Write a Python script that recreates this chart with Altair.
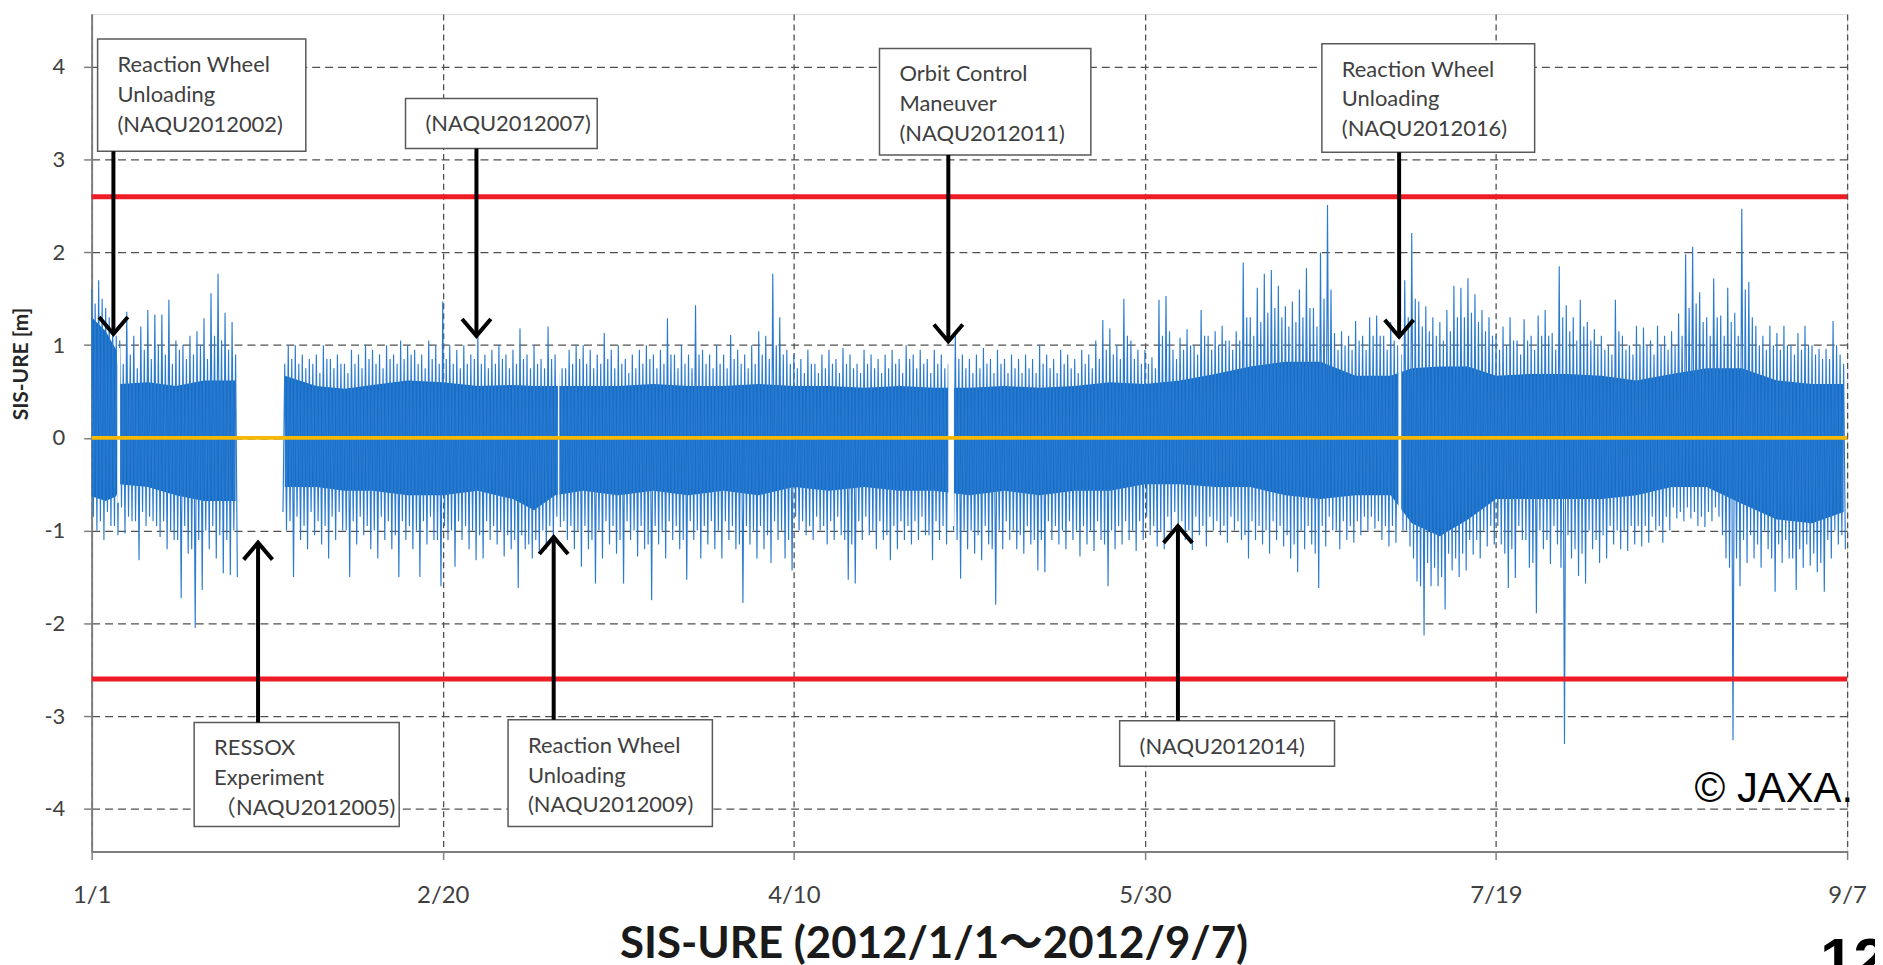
import altair as alt
import pandas as pd

# ---------------- data ----------------
TICK_DAYS = [0, 50, 100, 150, 200, 250]
TICK_LABELS = ["1/1", "2/20", "4/10", "5/30", "7/19", "9/7"]
Y_TICKS = [-4, -3, -2, -1, 0, 1, 2, 3, 4]
THRESHOLDS = [2.6, -2.6]
ZERO = [0.0]

# daily largest upward spike (day 0 = 1/1); None = no data (RESSOX experiment)
HI = [
    1.6, 1.7, 1.4, 1.2, 1.05, 1.36, 1.1, 1.2, 1.38, 1.33,
    1.33, 1.49, 1.05, 1.0, 1.1, 1.15, 1.29, 1.56, 1.77, 1.35,
    1.25, None, None, None, None, None, None, None, 1.0, 1.0,
    0.9, 0.85, 0.9, 1.0, 0.85, 0.9, 0.8, 0.95, 0.9, 1.0,
    0.95, 0.9, 1.0, 0.9, 1.05, 1.0, 0.95, 0.9, 1.05, 1.0,
    1.47, 1.0, 0.95, 1.0, 0.9, 1.11, 0.9, 0.95, 1.0, 0.9,
    0.95, 1.18, 0.9, 1.0, 0.85, 1.2, 0.9, 0.75, 0.95, 1.0,
    1.0, 0.95, 0.9, 1.13, 0.95, 1.0, 0.85, 0.9, 0.95, 1.0,
    0.9, 0.95, 1.29, 0.9, 1.0, 0.9, 1.43, 0.95, 0.9, 1.0,
    0.9, 1.11, 0.95, 0.9, 1.0, 1.15, 1.1, 1.77, 1.3, 0.95,
    0.9, 0.85, 0.95, 0.8, 0.9, 0.95, 0.85, 0.97, 0.9, 0.8,
    0.95, 0.9, 0.85, 0.9, 0.95, 0.85, 1.0, 0.9, 0.95, 0.85,
    0.95, 0.9, 0.8, 1.13, 0.9, 0.85, 0.9, 0.97, 0.85, 0.95,
    0.85, 0.9, 0.85, 0.9, 0.85, 1.0, 0.9, 0.85, 0.95, 0.9,
    0.85, 0.95, 0.9, 1.05, 1.27, 1.18, 1.0, 1.5, 1.05, 0.95,
    0.95, 0.87, 1.49, 1.53, 0.95, 1.08, 1.17, 1.0, 1.38, 1.1,
    1.15, 1.21, 1.05, 1.15, 1.89, 1.3, 1.62, 1.77, 1.81, 1.64,
    1.42, 1.47, 1.6, 1.83, 1.4, 2.0, 2.51, 1.13, 1.15, 1.1,
    1.26, 1.1, 1.3, 1.32, 1.1, 1.25, 1.0, 1.7, 2.21, 1.47,
    1.42, 1.3, 1.25, 1.38, 1.64, 1.62, 1.72, 1.55, 1.38, 1.3,
    1.1, 1.2, 1.3, 1.05, 1.28, 1.1, 1.32, 1.38, 1.13, 1.85,
    1.43, 1.3, 1.49, 1.25, 1.17, 1.1, 1.0, 1.49, 1.1, 1.0,
    1.21, 1.19, 1.05, 1.21, 1.1, 1.15, 1.34, 1.98, 2.06, 1.57,
    1.3, 1.72, 1.32, 1.62, 1.35, 2.47, 1.68, 1.21, 1.1, 1.21,
    1.13, 1.21, 1.0, 1.13, 1.21, 1.0, 0.96, 0.96, 1.26, 0.9,
]

# daily second (smaller) upward spike
HI2 = [
    1.45, 1.5, 1.3, 1.1, 0.8, 0.9, 0.75, 0.95, 0.85, 1.0,
    0.9, 0.8, 0.95, 0.85, 0.9, 1.0, 0.85, 1.1, 1.05, 0.95,
    0.9, None, None, None, None, None, None, 0.8, 0.85, 0.8,
    0.75, 0.8, 0.7, 0.85, 0.75, 0.8, 0.7, 0.8, 0.75, 0.85,
    0.8, 0.75, 0.85, 0.8, 0.85, 0.9, 0.8, 0.75, 0.85, 0.8,
    0.85, 0.8, 0.75, 0.8, 0.85, 0.8, 0.75, 0.8, 0.85, 0.75,
    0.8, 0.85, 0.75, 0.8, 0.75, 0.85, 0.7, 0.75, 0.8, 0.85,
    0.8, 0.75, 0.8, 0.85, 0.75, 0.8, 0.7, 0.75, 0.8, 0.85,
    0.75, 0.8, 0.9, 0.75, 0.8, 0.75, 0.9, 0.8, 0.75, 0.8,
    0.75, 0.85, 0.8, 0.75, 0.8, 0.9, 0.85, 1.0, 0.9, 0.8,
    0.75, 0.7, 0.8, 0.7, 0.75, 0.8, 0.7, 0.8, 0.75, 0.7,
    0.8, 0.75, 0.7, 0.75, 0.8, 0.7, 0.85, 0.75, 0.8, 0.7,
    0.8, 0.75, 0.7, 0.85, 0.75, 0.7, 0.75, 0.8, 0.7, 0.8,
    0.7, 0.75, 0.7, 0.75, 0.7, 0.8, 0.75, 0.7, 0.8, 0.75,
    0.7, 0.8, 0.75, 0.85, 0.95, 0.9, 0.85, 1.1, 0.85, 0.8,
    0.8, 0.75, 1.1, 1.15, 0.85, 0.95, 1.0, 0.9, 1.1, 0.95,
    1.0, 1.05, 0.95, 1.05, 1.3, 1.1, 1.25, 1.35, 1.4, 1.3,
    1.2, 1.25, 1.3, 1.4, 1.2, 1.5, 1.6, 0.95, 1.0, 0.95,
    1.05, 0.95, 1.1, 1.1, 0.95, 1.05, 0.9, 1.3, 1.5, 1.2,
    1.15, 1.1, 1.05, 1.15, 1.3, 1.3, 1.35, 1.25, 1.15, 1.1,
    0.95, 1.0, 1.05, 0.9, 1.05, 0.95, 1.1, 1.1, 0.95, 1.3,
    1.15, 1.05, 1.2, 1.05, 1.0, 0.95, 0.9, 1.15, 0.95, 0.9,
    1.0, 1.0, 0.9, 1.0, 0.95, 1.0, 1.1, 1.4, 1.45, 1.25,
    1.1, 1.3, 1.1, 1.25, 1.1, 1.6, 1.3, 1.0, 0.95, 1.0,
    0.95, 1.0, 0.9, 0.95, 1.0, 0.9, 0.85, 0.85, 1.0, 0.8,
]

# daily largest downward spike
LO = [
    -1.0, -1.1, -0.95, -1.05, -1.03, -0.9, -1.32, -0.95, -0.9, -1.07,
    -1.2, -1.1, -1.73, -1.25, -2.05, -1.64, -1.2, -1.3, -1.46, -1.48,
    -1.5, None, None, None, None, None, None, -1.0, -1.5, -1.1,
    -1.2, -1.05, -1.15, -1.3, -1.1, -1.0, -1.5, -1.15, -1.05, -1.2,
    -1.3, -1.1, -1.2, -1.5, -1.1, -1.2, -1.5, -1.15, -1.1, -1.6,
    -1.1, -1.39, -1.1, -1.2, -1.32, -1.3, -1.1, -1.15, -1.28, -1.2,
    -1.62, -1.2, -1.3, -1.25, -1.2, -1.1, -0.96, -1.1, -1.2, -1.39,
    -1.2, -1.57, -1.3, -1.15, -1.25, -1.57, -1.1, -1.28, -1.2, -1.75,
    -1.15, -1.3, -1.1, -1.2, -1.53, -1.1, -1.3, -1.15, -1.2, -1.3,
    -1.1, -1.2, -1.78, -1.15, -1.3, -1.2, -1.35, -1.1, -1.3, -1.43,
    -1.0, -1.05, -1.1, -1.0, -1.15, -1.1, -1.05, -1.53, -1.57, -1.1,
    -1.05, -1.2, -1.1, -1.32, -1.2, -1.1, -1.15, -1.1, -1.05, -1.32,
    -1.1, -1.15, -1.0, -1.52, -1.2, -1.25, -1.32, -1.15, -1.8, -1.2,
    -1.1, -1.2, -1.25, -1.15, -1.43, -1.45, -1.1, -1.15, -1.2, -1.1,
    -1.28, -1.15, -1.22, -1.1, -1.6, -1.2, -1.15, -1.1, -1.22, -1.1,
    -1.05, -1.17, -1.2, -1.0, -0.96, -1.1, -1.21, -1.05, -1.17, -1.0,
    -1.05, -1.13, -1.0, -1.1, -1.3, -1.1, -1.15, -1.25, -1.1, -1.17,
    -1.3, -1.45, -1.2, -1.15, -1.62, -1.17, -1.0, -1.2, -1.1, -1.13,
    -1.05, -1.0, -0.98, -1.1, -1.17, -1.13, -1.0, -1.17, -1.55, -2.13,
    -1.6, -1.6, -1.85, -1.43, -1.5, -1.43, -1.26, -1.3, -1.17, -1.15,
    -1.15, -1.62, -1.51, -1.1, -1.4, -1.89, -1.2, -1.36, -1.15, -3.3,
    -1.3, -1.49, -1.57, -1.2, -1.35, -1.3, -1.15, -1.2, -1.22, -1.15,
    -1.17, -1.13, -1.0, -1.13, -1.0, -0.87, -0.9, -0.87, -0.95, -0.96,
    -0.9, -0.85, -1.3, -3.26, -1.6, -1.35, -1.3, -1.4, -1.2, -1.66,
    -1.35, -1.3, -1.64, -1.4, -1.38, -1.45, -1.66, -1.3, -1.15, -1.2,
]

# daily second (smaller) downward spike
LO2 = [
    -0.85, -0.9, -0.8, -0.95, -0.75, -0.85, -0.9, -0.8, -0.85, -0.95,
    -0.9, -1.0, -1.1, -0.95, -1.2, -1.1, -1.0, -0.95, -1.05, -1.1,
    -1.0, None, None, None, None, None, None, -0.8, -0.9, -0.85,
    -0.95, -0.8, -0.9, -0.95, -0.85, -0.8, -1.0, -0.9, -0.85, -0.95,
    -1.0, -0.85, -0.9, -1.05, -0.9, -0.95, -1.0, -0.9, -0.85, -1.1,
    -0.95, -1.0, -0.9, -0.95, -1.0, -1.05, -0.9, -0.95, -1.0, -1.05,
    -1.1, -1.05, -1.15, -1.1, -1.0, -0.95, -0.85, -0.9, -0.95, -1.0,
    -0.95, -1.1, -1.0, -0.9, -0.95, -1.1, -0.9, -1.0, -0.95, -1.15,
    -0.95, -1.0, -0.9, -0.95, -1.1, -0.9, -1.0, -0.95, -0.9, -1.0,
    -0.9, -0.95, -1.15, -0.95, -1.0, -0.95, -1.05, -0.9, -1.0, -1.1,
    -0.85, -0.9, -0.95, -0.85, -0.95, -0.9, -0.85, -1.1, -1.15, -0.9,
    -0.85, -1.0, -0.9, -1.05, -0.95, -0.9, -0.95, -0.9, -0.85, -1.05,
    -0.9, -0.95, -0.85, -1.1, -1.0, -1.0, -1.05, -0.95, -1.2, -1.0,
    -0.9, -1.0, -1.05, -0.95, -1.1, -1.1, -0.9, -0.95, -1.0, -0.9,
    -1.0, -0.95, -1.0, -0.9, -1.15, -1.0, -0.95, -0.9, -1.0, -0.9,
    -0.85, -0.95, -1.0, -0.85, -0.8, -0.9, -1.0, -0.85, -0.95, -0.85,
    -0.9, -0.95, -0.85, -0.9, -1.05, -0.9, -0.95, -1.0, -0.9, -0.95,
    -1.05, -1.15, -1.0, -0.95, -1.25, -0.95, -0.85, -1.0, -0.9, -0.95,
    -0.9, -0.85, -0.85, -0.9, -0.95, -0.95, -0.85, -1.0, -1.3, -1.6,
    -1.35, -1.4, -1.5, -1.25, -1.3, -1.25, -1.1, -1.1, -1.0, -0.95,
    -0.95, -1.25, -1.2, -0.95, -1.1, -1.35, -1.0, -1.1, -0.95, -1.4,
    -1.05, -1.2, -1.25, -1.0, -1.1, -1.05, -0.95, -1.0, -1.0, -0.95,
    -0.95, -0.95, -0.85, -0.95, -0.85, -0.75, -0.8, -0.75, -0.8, -0.85,
    -0.8, -0.75, -1.05, -1.4, -1.3, -1.1, -1.05, -1.15, -1.0, -1.3,
    -1.15, -1.1, -1.3, -1.2, -1.15, -1.25, -1.35, -1.1, -1.0, -1.05,
]

# dense core band of the trace
CORE_T = [0, 2, 3.5, 4, 8, 12, 16, 20.5,
          27.5, 32, 36, 40, 45, 50, 55, 60, 63, 66, 70, 75, 80, 85, 90, 95,
          100, 105, 110, 115, 120, 125, 130, 135, 140, 145, 150, 155, 160,
          165, 170, 175, 180, 185, 188, 192, 196, 200, 205, 210, 215, 220,
          225, 230, 235, 240, 245, 249.5]
CORE_TOP = [1.3, 1.15, 0.95, 0.58, 0.6, 0.56, 0.62, 0.62,
            0.67, 0.56, 0.53, 0.57, 0.62, 0.6, 0.56, 0.57, 0.56, 0.56, 0.56,
            0.56, 0.58, 0.56, 0.56, 0.58,
            0.56, 0.56, 0.54, 0.56, 0.54, 0.54, 0.56, 0.54, 0.56, 0.6, 0.58,
            0.62, 0.69, 0.77, 0.82, 0.82, 0.67, 0.67,
            0.75, 0.77, 0.77,
            0.67, 0.69, 0.69, 0.67, 0.62, 0.69, 0.75, 0.75, 0.62, 0.58,
            0.58]
CORE_BOT = [-0.63, -0.68, -0.63, -0.5, -0.53, -0.62, -0.68, -0.68,
            -0.53, -0.53, -0.57, -0.57, -0.62, -0.62, -0.57, -0.66, -0.78,
            -0.62, -0.57, -0.62, -0.57, -0.62, -0.57, -0.62,
            -0.53, -0.57, -0.53, -0.57, -0.57, -0.62, -0.57, -0.62, -0.57,
            -0.57, -0.5, -0.5, -0.53, -0.53, -0.62, -0.66, -0.62, -0.62,
            -0.92, -1.06, -0.88,
            -0.66, -0.66, -0.66, -0.66, -0.62, -0.53, -0.53, -0.71, -0.88,
            -0.92, -0.8]
RESSOX_START, RESSOX_END = 20.5, 27.5

# short data outages (white gaps in the trace)
GAP_START = [3.65, 66.4, 122.0, 186.1]
GAP_END = [4.05, 66.6, 122.8, 186.5]
GAP_TOP = [0.97, 0.95, 0.95, 1.08]
GAP_BOT = [-0.7, -0.95, -0.95, -1.17]

# annotation boxes (days / metres)
BOX_LABELS = [
    "Reaction Wheel\nUnloading\n(NAQU2012002)",
    "(NAQU2012007)",
    "Orbit Control\nManeuver\n(NAQU2012011)",
    "Reaction Wheel\nUnloading\n(NAQU2012016)",
    "RESSOX\nExperiment\n（NAQU2012005)",
    "Reaction Wheel\nUnloading\n(NAQU2012009)",
    "(NAQU2012014)",
]
BOX_X0 = [0.85, 44.7, 112.2, 175.2, 14.6, 59.3, 146.4]
BOX_X1 = [30.5, 72.0, 142.3, 205.5, 43.8, 88.4, 177.0]
BOX_TOP = [4.30, 3.66, 4.20, 4.25, -3.07, -3.04, -3.05]
BOX_BOTTOM = [3.09, 3.12, 3.05, 3.08, -4.19, -4.19, -3.54]
ARROW_T = [3.1, 54.8, 122.0, 186.2, 23.7, 65.8, 154.7]
ARROW_TIP = [1.12, 1.10, 1.04, 1.09, -1.13, -1.07, -0.95]
ARROW_DIR = ["down", "down", "down", "down", "up", "up", "up"]

TITLE = "SIS-URE (2012/1/1〜2012/9/7)"
COPYRIGHT = "© JAXA."
PAGE_NO = "12"

# ---------------- build tables ----------------
rows = []
seg = 0
broken = False
for d in range(len(HI)):
    for off, arr in ((0.0, HI), (0.25, LO2), (0.5, HI2), (0.75, LO)):
        v = arr[d]
        if v is None:
            broken = True
            continue
        if broken:
            seg += 1
            broken = False
        rows.append({"t": d + off, "v": v, "seg": seg})
trace = pd.DataFrame(rows)

core = pd.DataFrame({"t": CORE_T, "top": CORE_TOP, "bot": CORE_BOT})
core["seg"] = [0 if t <= RESSOX_START else 1 for t in CORE_T]

gaps = pd.DataFrame({"s": GAP_START, "e": GAP_END, "hi": GAP_TOP, "lo": GAP_BOT})
boxes = pd.DataFrame({"x0": BOX_X0, "x1": BOX_X1, "top": BOX_TOP,
                      "bottom": BOX_BOTTOM, "label": BOX_LABELS})
arrows = pd.DataFrame({
    "t": ARROW_T,
    "tip": ARROW_TIP,
    "start": [BOX_BOTTOM[i] if ARROW_DIR[i] == "down" else BOX_TOP[i]
              for i in range(len(ARROW_T))],
    "dir": ARROW_DIR,
})

# ---------------- scales / axes ----------------
FONT = "Lato, Liberation Sans, Noto Sans CJK JP"
xs = alt.Scale(domain=[TICK_DAYS[0], TICK_DAYS[-1]], nice=False, zero=False)
ys = alt.Scale(domain=[-4.46, 4.57], nice=False, zero=False)

label_expr = " : ".join(f"datum.value == {d} ? '{l}'"
                        for d, l in zip(TICK_DAYS, TICK_LABELS)) + " : ''"

xaxis = alt.Axis(values=TICK_DAYS, labelExpr=label_expr, title=None,
                 grid=True, gridDash=[6, 4], gridColor="#505050", gridWidth=1.3,
                 domainColor="#7f7f7f", domainWidth=2, tickColor="#7f7f7f",
                 tickSize=8, tickWidth=1.5, labelFlush=False,
                 labelFont=FONT, labelFontSize=24, labelColor="#404040",
                 labelPadding=24)
yaxis = alt.Axis(values=Y_TICKS,
                 labelExpr="datum.value < 0 ? '-' + abs(datum.value) : '' + datum.value",
                 grid=True, gridDash=[8, 5], gridColor="#505050", gridWidth=1.3,
                 domainColor="#7f7f7f", domainWidth=2, tickColor="#7f7f7f",
                 tickSize=8, tickWidth=1.5,
                 labelFont=FONT, labelFontSize=22, labelColor="#404040",
                 labelPadding=19,
                 title="SIS-URE [m]", titleFont=FONT, titleFontSize=21,
                 titleFontWeight="bold", titleColor="#262626",
                 titleAngle=270, titleX=-70, titleY=351, titleAlign="center",
                 titleBaseline="middle")

CORE_BLUE = "#166dc6"
LINE_BLUE = "#2a7bd0"

core_layer = alt.Chart(core).mark_area(color=CORE_BLUE, opacity=1).encode(
    x=alt.X("t:Q", scale=xs, axis=xaxis),
    y=alt.Y("top:Q", scale=ys, axis=yaxis),
    y2="bot:Q",
    detail="seg:N",
)

trace_layer = alt.Chart(trace).mark_line(color=LINE_BLUE, strokeWidth=1.15).encode(
    x=alt.X("t:Q", scale=xs),
    y=alt.Y("v:Q", scale=ys),
    detail="seg:N",
    order="t:Q",
)

gap_layer = alt.Chart(gaps).mark_rect(color="white").encode(
    x=alt.X("s:Q", scale=xs), x2="e:Q",
    y=alt.Y("lo:Q", scale=ys), y2="hi:Q",
)

red_layer = alt.Chart(pd.DataFrame({"y": THRESHOLDS})).mark_rule(
    color="#ee1c25", strokeWidth=5).encode(y=alt.Y("y:Q", scale=ys))

zero_layer = alt.Chart(pd.DataFrame({"y": ZERO})).mark_rule(
    color="#f6b800", strokeWidth=4).encode(y=alt.Y("y:Q", scale=ys))

box_layer = alt.Chart(boxes).mark_rect(
    fill="white", stroke="#595959", strokeWidth=1.5).encode(
    x=alt.X("x0:Q", scale=xs), x2="x1:Q",
    y=alt.Y("top:Q", scale=ys), y2="bottom:Q",
)

box_text = alt.Chart(boxes).mark_text(
    align="left", baseline="middle", dx=20, dy=26, lineBreak="\n",
    lineHeight=30, font=FONT, fontSize=22, color="#404040").encode(
    x=alt.X("x0:Q", scale=xs), y=alt.Y("top:Q", scale=ys), text="label:N")

shaft_layer = alt.Chart(arrows).mark_rule(color="black", strokeWidth=4).encode(
    x=alt.X("t:Q", scale=xs), y=alt.Y("start:Q", scale=ys), y2="tip:Q")

DOWN_HEAD = "M-0.85,-1L0,0L0.85,-1"
UP_HEAD = "M-0.85,1L0,0L0.85,1"
head_layer = alt.Chart(arrows).mark_point(
    filled=False, stroke="black", strokeWidth=4, size=1156, opacity=1).encode(
    x=alt.X("t:Q", scale=xs), y=alt.Y("tip:Q", scale=ys),
    shape=alt.Shape("dir:N", scale=alt.Scale(domain=["down", "up"],
                                             range=[DOWN_HEAD, UP_HEAD]),
                    legend=None),
)

title_layer = alt.Chart(pd.DataFrame({"s": [TITLE]})).mark_text(
    align="center", baseline="alphabetic", font="Lato, Noto Sans CJK JP",
    fontSize=44, fontWeight="bold", color="#1a1a1a").encode(
    x=alt.value(846), y=alt.value(948), text="s:N")

copyright_layer = alt.Chart(pd.DataFrame({"s": [COPYRIGHT]})).mark_text(
    align="right", baseline="alphabetic", font="Liberation Sans", fontSize=42,
    color="black").encode(x=alt.value(1769), y=alt.value(791), text="s:N")

page_layer = alt.Chart(pd.DataFrame({"s": [PAGE_NO]})).mark_text(
    align="left", baseline="alphabetic", font="Liberation Sans", fontSize=60,
    fontWeight="bold", color="black").encode(
    x=alt.value(1736), y=alt.value(970), text="s:N")

chart = alt.layer(
    core_layer, trace_layer, gap_layer, red_layer, zero_layer,
    box_layer, box_text, shaft_layer, head_layer,
    title_layer, copyright_layer, page_layer,
).properties(
    width=1763, height=841,
    padding={"left": 84, "top": 4, "right": 28, "bottom": 132},
    autosize=alt.AutoSizeParams(type="none"),
).configure_view(stroke="#7f7f7f", strokeWidth=2).configure(background="white")

chart.save("out.html", embed_options={"renderer": "svg", "actions": False})
